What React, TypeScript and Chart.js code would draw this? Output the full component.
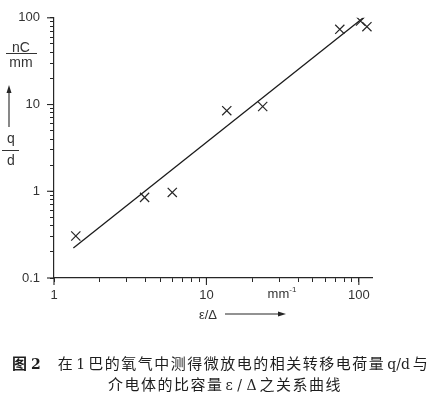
import React, { useEffect, useRef } from "react";
import { Chart, registerables } from "chart.js";

Chart.register(...registerables);

// Measured data: epsilon/Delta (mm^-1) vs q/d (nC/mm)
const epsDelta = [1.39, 3.93, 5.97, 13.6, 23.4, 75, 102.6, 113];
const qdValues = [0.305, 0.85, 0.97, 8.5, 9.5, 73.6, 91.7, 79];

// Fitted straight line (log-log) end points
const fitX = [1.34, 107];
const fitY = [0.222, 100];

// Axis ticks
const xTickValues = [1, 2, 3, 4, 5, 6, 7, 8, 9, 10, 20, 30, 40, 50, 60, 70, 80, 90, 100];
const xLabeled = [1, 10, 100];
const yTickValues = [0.1, 0.2, 0.3, 0.4, 0.5, 0.6, 0.7, 0.8, 0.9, 1, 2, 3, 4, 5, 6, 7, 8, 9, 10, 20, 30, 40, 50, 60, 70, 80, 90, 100];
const yLabeled = [0.1, 1, 10, 100];

const INK = "#262626";
const FONT = "'Liberation Sans', Arial, sans-serif";

const decorPlugin = {
  id: "decor",
  afterDraw(chart: any) {
    const ctx = chart.ctx;
    const xs = chart.scales.x;
    const ys = chart.scales.y;
    ctx.save();
    ctx.strokeStyle = INK;
    ctx.lineWidth = 1.1;
    // longer major ticks
    yLabeled.forEach((v) => {
      const py = ys.getPixelForValue(v);
      ctx.beginPath();
      ctx.moveTo(xs.left - 7, py);
      ctx.lineTo(xs.left, py);
      ctx.stroke();
    });
    xLabeled.forEach((v) => {
      const px = xs.getPixelForValue(v);
      ctx.beginPath();
      ctx.moveTo(px, ys.bottom);
      ctx.lineTo(px, ys.bottom + 7);
      ctx.stroke();
    });
    // up arrow beside y title
    ctx.fillStyle = INK;
    ctx.beginPath();
    ctx.moveTo(9, 127);
    ctx.lineTo(9, 92);
    ctx.stroke();
    ctx.beginPath();
    ctx.moveTo(9, 85);
    ctx.lineTo(6.5, 93);
    ctx.lineTo(11.5, 93);
    ctx.closePath();
    ctx.fill();
    // right arrow beside x title
    ctx.beginPath();
    ctx.moveTo(225, 314);
    ctx.lineTo(279, 314);
    ctx.stroke();
    ctx.beginPath();
    ctx.moveTo(286, 314);
    ctx.lineTo(278, 311.5);
    ctx.lineTo(278, 316.5);
    ctx.closePath();
    ctx.fill();
    ctx.restore();
  },
};

export default function App() {
  const ref = useRef<HTMLCanvasElement>(null);

  useEffect(() => {
    if (!ref.current) return;
    const chart = new Chart(ref.current, {
      type: "scatter",
      data: {
        datasets: [
          {
            label: "measured",
            data: epsDelta.map((x, i) => ({ x, y: qdValues[i] })),
            pointStyle: "crossRot",
            pointRadius: 6.5,
            pointBorderWidth: 1.2,
            borderColor: INK,
            backgroundColor: INK,
            showLine: false,
          },
          {
            label: "fit",
            data: fitX.map((x, i) => ({ x, y: fitY[i] })),
            showLine: true,
            borderColor: "#1a1a1a",
            borderWidth: 1.3,
            pointRadius: 0,
          },
        ],
      },
      options: {
        responsive: false,
        animation: false,
        layout: { padding: { left: 0, top: 15, right: 65, bottom: 0 } },
        plugins: {
          legend: { display: false },
          tooltip: { enabled: false },
          title: { display: false },
        },
        scales: {
          x: {
            type: "logarithmic",
            min: 1,
            max: 122,
            afterFit: (s: any) => {
              s.height = 119;
            },
            afterBuildTicks: (s: any) => {
              s.ticks = xTickValues.map((v) => ({ value: v, major: xLabeled.includes(v) }));
            },
            border: { display: true, color: INK, width: 1.2 },
            grid: { drawOnChartArea: false, drawTicks: true, tickLength: 4, tickColor: INK, tickWidth: 1 },
            ticks: {
              autoSkip: false,
              maxRotation: 0,
              padding: 6,
              color: "#333",
              font: { family: FONT, size: 13 },
              callback: (v: any) => (xLabeled.includes(Number(v)) ? String(v) : ""),
            },
          },
          y: {
            type: "logarithmic",
            min: 0.1,
            max: 100,
            afterFit: (s: any) => {
              s.width = 54;
            },
            afterBuildTicks: (s: any) => {
              s.ticks = yTickValues.map((v) => ({ value: v, major: yLabeled.includes(v) }));
            },
            border: { display: true, color: INK, width: 1.2 },
            grid: { drawOnChartArea: false, drawTicks: true, tickLength: 4, tickColor: INK, tickWidth: 1 },
            ticks: {
              autoSkip: false,
              padding: 10,
              color: "#333",
              font: { family: FONT, size: 13 },
              callback: (v: any) => (yLabeled.includes(Number(v)) ? String(v) : ""),
            },
          },
        },
      },
      plugins: [decorPlugin],
    });
    return () => chart.destroy();
  }, []);

  const abs = (x: number, y: number, extra: any = {}) => ({
    position: "absolute" as const,
    left: x,
    top: y,
    transform: "translate(-50%, -50%)",
    whiteSpace: "nowrap" as const,
    fontFamily: FONT,
    color: "#333",
    fontSize: 13,
    lineHeight: 1,
    ...extra,
  });

  const cjk = "'Noto Sans CJK SC', sans-serif";
  const capStyle = (left: number, top: number) => ({
    position: "absolute" as const,
    left,
    top,
    fontFamily: cjk,
    fontSize: 15,
    lineHeight: "20px",
    color: "#1e1e1e",
    whiteSpace: "nowrap" as const,
    letterSpacing: 1.5,
  });
  const latin = { letterSpacing: 0, fontFamily: "'DejaVu Serif', serif", fontSize: 14, margin: "0 3px 0 2px" };

  return (
    <div style={{ position: "absolute", left: 0, top: 0, width: 437, height: 397, background: "#fff", overflow: "hidden" }}>
      <canvas ref={ref} width={437} height={397} style={{ position: "absolute", left: 0, top: 0 }} />
      {/* y axis title: nC / mm */}
      <div style={abs(21, 47, { fontSize: 14 })}>nC</div>
      <div style={{ position: "absolute", left: 6, top: 53, width: 31, height: 1.2, background: "#333" }} />
      <div style={abs(21, 62, { fontSize: 14 })}>mm</div>
      {/* q / d */}
      <div style={abs(11, 138, { fontSize: 14 })}>q</div>
      <div style={{ position: "absolute", left: 2, top: 150, width: 17, height: 1.2, background: "#333" }} />
      <div style={abs(11, 160, { fontSize: 14 })}>d</div>
      {/* x axis unit and title */}
      <div style={abs(282, 293)}>
        mm<sup style={{ fontSize: 8, verticalAlign: "6px" }}>-1</sup>
      </div>
      <div style={abs(208, 314)}>ε/Δ</div>
      {/* caption */}
      <div style={capStyle(12, 353)}>
        <span style={{ fontWeight: 700, letterSpacing: 4 }}>图</span>
        <span style={{ fontWeight: 700, letterSpacing: 0, fontFamily: "'DejaVu Serif', serif", fontSize: 14 }}>2</span>
        <span style={{ display: "inline-block", width: 17 }} />
        在<span style={latin}>1</span>巴的氧气中测得微放电的相关转移电荷量<span style={latin}>q/d</span>与
      </div>
      <div style={capStyle(108, 374)}>
        介电体的比容量<span style={latin}>ε / Δ</span>之关系曲线
      </div>
    </div>
  );
}
